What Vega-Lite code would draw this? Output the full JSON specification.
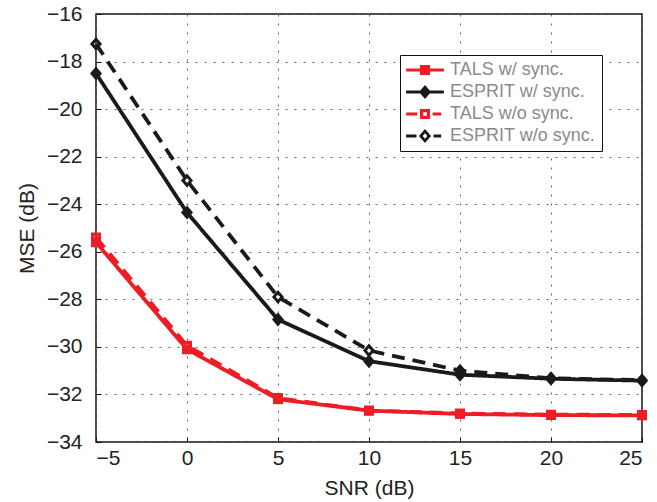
{
  "$schema": "https://vega.github.io/schema/vega-lite/v6.json",
  "width": 546,
  "height": 428,
  "autosize": "none",
  "padding": {"left": 96, "top": 14, "right": 15, "bottom": 60},
  "config": {
    "font": "Liberation Sans",
    "view": {"stroke": "#111", "strokeWidth": 1.5},
    "axis": {
      "labelFont": "Liberation Sans",
      "labelFontSize": 21,
      "labelColor": "#222",
      "titleFont": "Liberation Sans",
      "titleFontSize": 21,
      "titleFontWeight": "normal",
      "titleColor": "#222",
      "grid": true,
      "gridColor": "#666",
      "gridDash": [2, 7],
      "gridWidth": 1,
      "domain": false,
      "ticks": true,
      "tickColor": "#111",
      "tickSize": -5,
      "labelPadding": 19
    }
  },
  "data": {
    "values": [
      {"snr": -5, "mse": -25.6, "series": "TALS w/ sync."},
      {"snr": 0, "mse": -30.1, "series": "TALS w/ sync."},
      {"snr": 5, "mse": -32.2, "series": "TALS w/ sync."},
      {"snr": 10, "mse": -32.68, "series": "TALS w/ sync."},
      {"snr": 15, "mse": -32.82, "series": "TALS w/ sync."},
      {"snr": 20, "mse": -32.87, "series": "TALS w/ sync."},
      {"snr": 25, "mse": -32.88, "series": "TALS w/ sync."},
      {"snr": -5, "mse": -18.5, "series": "ESPRIT w/ sync."},
      {"snr": 0, "mse": -24.35, "series": "ESPRIT w/ sync."},
      {"snr": 5, "mse": -28.85, "series": "ESPRIT w/ sync."},
      {"snr": 10, "mse": -30.6, "series": "ESPRIT w/ sync."},
      {"snr": 15, "mse": -31.17, "series": "ESPRIT w/ sync."},
      {"snr": 20, "mse": -31.34, "series": "ESPRIT w/ sync."},
      {"snr": 25, "mse": -31.42, "series": "ESPRIT w/ sync."},
      {"snr": -5, "mse": -25.4, "series": "TALS w/o sync."},
      {"snr": 0, "mse": -29.95, "series": "TALS w/o sync."},
      {"snr": 5, "mse": -32.15, "series": "TALS w/o sync."},
      {"snr": 10, "mse": -32.68, "series": "TALS w/o sync."},
      {"snr": 15, "mse": -32.8, "series": "TALS w/o sync."},
      {"snr": 20, "mse": -32.85, "series": "TALS w/o sync."},
      {"snr": 25, "mse": -32.86, "series": "TALS w/o sync."},
      {"snr": -5, "mse": -17.26, "series": "ESPRIT w/o sync."},
      {"snr": 0, "mse": -23.0, "series": "ESPRIT w/o sync."},
      {"snr": 5, "mse": -27.9, "series": "ESPRIT w/o sync."},
      {"snr": 10, "mse": -30.15, "series": "ESPRIT w/o sync."},
      {"snr": 15, "mse": -31.0, "series": "ESPRIT w/o sync."},
      {"snr": 20, "mse": -31.32, "series": "ESPRIT w/o sync."},
      {"snr": 25, "mse": -31.4, "series": "ESPRIT w/o sync."}
    ]
  },
  "encoding": {
    "x": {
      "field": "snr", "type": "quantitative",
      "scale": {"domain": [-5, 25], "nice": false, "zero": false},
      "axis": {"values": [-5, 0, 5, 10, 15, 20, 25], "format": "d", "title": "SNR (dB)", "titlePadding": 9, "labelPadding": 10}
    },
    "y": {
      "field": "mse", "type": "quantitative",
      "scale": {"domain": [-34, -16], "nice": false, "zero": false},
      "axis": {"values": [-34, -32, -30, -28, -26, -24, -22, -20, -18, -16], "format": "d", "title": "MSE (dB)", "titlePadding": 9}
    }
  },
  "layer": [
    {
      "mark": {"type": "line", "strokeWidth": 3.8},
      "encoding": {
        "color": {
          "field": "series", "type": "nominal",
          "scale": {"domain": ["TALS w/ sync.", "ESPRIT w/ sync.", "TALS w/o sync.", "ESPRIT w/o sync."], "range": ["#ee1c25", "#1a1a1a", "#ee1c25", "#1a1a1a"]},
          "legend": null
        },
        "strokeDash": {
          "field": "series", "type": "nominal",
          "scale": {"domain": ["TALS w/ sync.", "ESPRIT w/ sync.", "TALS w/o sync.", "ESPRIT w/o sync."], "range": [[1, 0], [1, 0], [13, 8], [13, 8]]},
          "legend": null
        }
      }
    },
    {
      "mark": {"type": "point", "filled": true, "opacity": 1, "size": 196, "strokeWidth": 0},
      "encoding": {
        "color": {
          "field": "series", "type": "nominal",
          "scale": {"domain": ["TALS w/ sync.", "ESPRIT w/ sync.", "TALS w/o sync.", "ESPRIT w/o sync."], "range": ["#ee1c25", "#1a1a1a", "#ee1c25", "#1a1a1a"]},
          "legend": null
        },
        "shape": {
          "field": "series", "type": "nominal",
          "scale": {"domain": ["TALS w/ sync.", "ESPRIT w/ sync.", "TALS w/o sync.", "ESPRIT w/o sync."],
            "range": [
              "M-0.71,-0.71H0.71V0.71H-0.71Z",
              "M0,-1L0.86,0L0,1L-0.86,0Z",
              "M-0.71,-0.71H0.71V0.71H-0.71Z M-0.24,-0.24V0.24H0.24V-0.24Z",
              "M0,-1L0.86,0L0,1L-0.86,0Z M0,-0.36L-0.31,0L0,0.36L0.31,0Z"
            ]},
          "legend": null
        }
      }
    },
    {
      "mark": {"type": "point", "filled": true, "opacity": 0, "size": 196, "strokeWidth": 0},
      "encoding": {
        "color": {
          "field": "series", "type": "nominal",
          "scale": {"domain": ["TALS w/ sync.", "ESPRIT w/ sync.", "TALS w/o sync.", "ESPRIT w/o sync."], "range": ["#ee1c25", "#1a1a1a", "#ee1c25", "#1a1a1a"]},
          "legend": {
            "title": null, "orient": "none", "legendX": 304, "legendY": 41,
            "symbolSize": 324, "symbolOpacity": 1, "symbolStrokeWidth": 0,
            "symbolOffset": 10, "labelOffset": 16,
            "labelFont": "Liberation Sans", "labelFontSize": 18, "labelColor": "#8a8a8a",
            "rowPadding": 4, "padding": 6,
            "strokeColor": "#111", "fillColor": "white",
            "encode": {"symbols": {"update": {"opacity": {"value": 1}}}}
          }
        },
        "shape": {
          "field": "series", "type": "nominal",
          "scale": {"domain": ["TALS w/ sync.", "ESPRIT w/ sync.", "TALS w/o sync.", "ESPRIT w/o sync."],
            "range": [
              "M-2.1,-0.17H2.1V0.17H-2.1Z M-0.56,-0.56H0.56V0.56H-0.56Z",
              "M-2.1,-0.17H2.1V0.17H-2.1Z M0,-0.78L0.67,0L0,0.78L-0.67,0Z",
              "M-2.1,-0.17H-0.85V0.17H-2.1Z M0.85,-0.17H1.8V0.17H0.85Z M-0.56,-0.56H0.56V0.56H-0.56Z M-0.2,-0.2V0.2H0.2V-0.2Z",
              "M-2.1,-0.17H-0.95V0.17H-2.1Z M0.95,-0.17H1.8V0.17H0.95Z M0,-0.78L0.67,0L0,0.78L-0.67,0Z M0,-0.3L-0.26,0L0,0.3L0.26,0Z"
            ]}
        }
      }
    }
  ],
  "resolve": {"scale": {"color": "independent", "shape": "independent"}}
}
